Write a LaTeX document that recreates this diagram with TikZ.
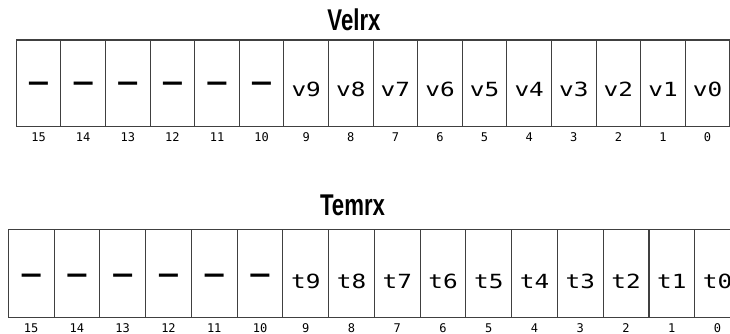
\documentclass[tikz,border=0pt]{standalone}
\usepackage{fontspec}
\setmonofont{DejaVu Sans Mono}
\newfontfamily\titlefont{Liberation Sans}
\newfontfamily\dashfont{DejaVu Sans}
\usetikzlibrary{positioning}

\tikzset{
  cell/.style={draw=black!75, line width=1.1pt, inner sep=0pt, minimum width=#1, minimum height=86.7pt},
  celltext/.style={font=\ttfamily\fontsize{19.5}{19.5}\selectfont, xscale=1.25, anchor=base, inner sep=0pt},
  celldash/.style={font=\dashfont\bfseries\fontsize{25}{25}\selectfont, xscale=0.85, anchor=base, inner sep=0pt},
  bitno/.style={font=\ttfamily\fontsize{12}{12}\selectfont, anchor=base, inner sep=0pt},
  regname/.style={font=\titlefont\bfseries\fontsize{30}{30}\selectfont, xscale=0.74, anchor=base, inner sep=0pt}
}

\begin{document}
\begin{tikzpicture}[x=1pt,y=-1pt]
\useasboundingbox (0,0) rectangle (730,334);
\clip (0,0) rectangle (730,334);

% first register
\node[regname] (velrx) at (354,30.5) {Velrx};
\foreach \i in {0,...,15} {
    \node[cell=44.6pt] (v\i) at ({38.6+(15-\i)*44.6},83.35) {};
    \node[bitno] (vn\i) at ([yshift=-14.3pt]v\i.south) {\i};
}
\foreach \i in {0,...,9} {
    \node[celltext] (vt\i) at ([yshift=-13.6pt]v\i.center) {v\i};
}
\foreach \i in {10,...,15} {
    \node[celldash] (vd\i) at ([yshift=-7.5pt]v\i.center) {—};
}

% second register
\node[regname] (temrx) at (352.5,215.5) {Temrx};
\foreach \i in {0,...,15} {
    \node[cell=45.76pt, minimum height=88.4pt] (t\i) at ({31.2+(15-\i)*45.76},273.5) {};
    \node[bitno] (tn\i) at ([yshift=-14pt]t\i.south) {\i};
}
\foreach \i in {0,...,9} {
    \node[celltext] (tt\i) at ([yshift=-15pt]t\i.center) {t\i};
}
\foreach \i in {10,...,15} {
    \node[celldash] (td\i) at ([yshift=-9pt]t\i.center) {—};
}

\end{tikzpicture}
\end{document}
